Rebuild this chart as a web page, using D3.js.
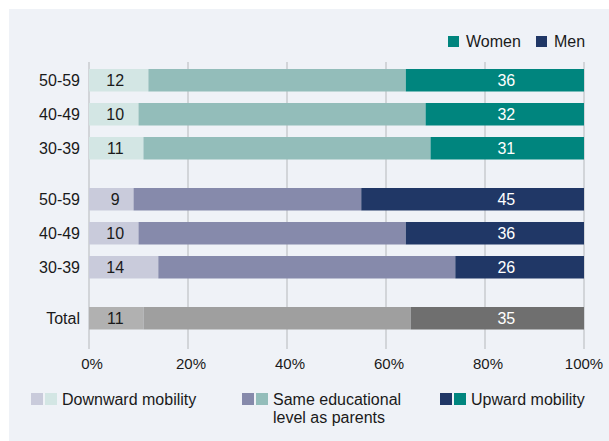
<!DOCTYPE html>
<html>
<head>
<meta charset="utf-8">
<script src="https://cdn.jsdelivr.net/npm/d3@7"></script>
<style>
  body { margin: 0; background: #fff; }
  text { font-family: "Liberation Sans", Arial, sans-serif; fill: #1a1a1a; }
</style>
</head>
<body>
<script>
const ages = ["50-59", "40-49", "30-39"]
const womenDown = [12, 10, 11]
const womenSame = [52, 58, 58]
const womenUp = [36, 32, 31]
const menDown = [9, 10, 14]
const menSame = [46, 54, 60]
const menUp = [45, 36, 26]
const totalDown = [11]
const totalSame = [54]
const totalUp = [35]
const ticks = [0, 20, 40, 60, 80, 100]

const w = 609
const h = 441
const bh = 22.5 // bar height

const colors = {
  women: ["#d3e6e4", "#93bdba", "#00857e"],
  men: ["#c9cbdb", "#868aab", "#203766"],
  total: ["#b1b1b1", "#9f9f9f", "#6f6f6f"]
}

// rows with a slot number (groups separated by a wider gap)
const rows = []
ages.forEach((a, i) => rows.push({label: a, group: "women", slot: i, vals: [womenDown[i], womenSame[i], womenUp[i]]}))
ages.forEach((a, i) => rows.push({label: a, group: "men", slot: 3.5 + i, vals: [menDown[i], menSame[i], menUp[i]]}))
rows.push({label: "Total", group: "total", slot: 7, vals: [totalDown[0], totalSame[0], totalUp[0]]})

const x = d3.scaleLinear().domain([0, 100]).range([89, 584])
const y = d3.scaleLinear().domain([0, 7]).range([69, 307])

const svg = d3.select("body")
              .append("svg")
              .attr("width", w)
              .attr("height", h)

// panel background
svg.append("rect")
   .attr("x", 9).attr("y", 9)
   .attr("width", w - 9).attr("height", h - 9)
   .attr("fill", "#eff2f7")

// gridlines
svg.selectAll("line.grid")
   .data(ticks)
   .enter()
   .append("line")
   .attr("class", "grid")
   .attr("x1", d => x(d)).attr("x2", d => x(d))
   .attr("y1", 62).attr("y2", 349)
   .attr("stroke", "#c9cbcf")
   .attr("stroke-width", 1.5)

// tick labels
svg.selectAll("text.tick")
   .data(ticks)
   .enter()
   .append("text")
   .attr("class", "tick")
   .attr("x", d => x(d) + (d === 100 ? 0 : 3))
   .attr("y", 369)
   .attr("text-anchor", "middle")
   .style("font-size", "15px")
   .text(d => d + "%")

// bars
const rowG = svg.selectAll("g.row")
   .data(rows)
   .enter()
   .append("g")
   .attr("class", "row")
   .attr("transform", d => `translate(0,${y(d.slot)})`)

rowG.selectAll("rect")
   .data(d => {
     let acc = 0
     return d.vals.map((v, i) => {
       const s = {x0: acc, x1: acc + v, color: colors[d.group][i]}
       acc += v
       return s
     })
   })
   .enter()
   .append("rect")
   .attr("x", d => x(d.x0))
   .attr("width", d => x(d.x1) - x(d.x0))
   .attr("height", bh)
   .attr("fill", d => d.color)

// row labels
rowG.append("text")
   .attr("x", 80)
   .attr("y", bh / 2 + 6)
   .attr("text-anchor", "end")
   .style("font-size", "16px")
   .text(d => d.label)

// value labels
rowG.append("text")
   .attr("x", x(5.3))
   .attr("y", bh / 2 + 6)
   .attr("text-anchor", "middle")
   .style("font-size", "16px")
   .text(d => d.vals[0])

rowG.append("text")
   .attr("x", x(84.3))
   .attr("y", bh / 2 + 6)
   .attr("text-anchor", "middle")
   .style("font-size", "16px")
   .style("fill", "#fff")
   .text(d => d.vals[2])

// top legend
const topLegend = [
  {name: "Women", color: colors.women[2], x: 448},
  {name: "Men", color: colors.men[2], x: 536}
]
const tl = svg.selectAll("g.tl")
   .data(topLegend)
   .enter()
   .append("g")
   .attr("transform", d => `translate(${d.x},36)`)
tl.append("rect").attr("width", 11).attr("height", 11).attr("fill", d => d.color)
tl.append("text").attr("x", 18).attr("y", 11).style("font-size", "16px").text(d => d.name)

// bottom legend
const bottomLegend = [
  {lines: ["Downward mobility"], idx: 0, x: 31},
  {lines: ["Same educational", "level as parents"], idx: 1, x: 242},
  {lines: ["Upward mobility"], idx: 2, x: 440}
]
const bl = svg.selectAll("g.bl")
   .data(bottomLegend)
   .enter()
   .append("g")
   .attr("transform", d => `translate(${d.x},393)`)
bl.append("rect").attr("width", 12).attr("height", 12).attr("fill", d => colors.men[d.idx])
bl.append("rect").attr("x", 14).attr("width", 12).attr("height", 12).attr("fill", d => colors.women[d.idx])
bl.append("text")
  .style("font-size", "16px")
  .selectAll("tspan")
  .data(d => d.lines)
  .enter()
  .append("tspan")
  .attr("x", 31)
  .attr("y", (d, i) => 12 + i * 18)
  .text(d => d)
</script>
</body>
</html>
